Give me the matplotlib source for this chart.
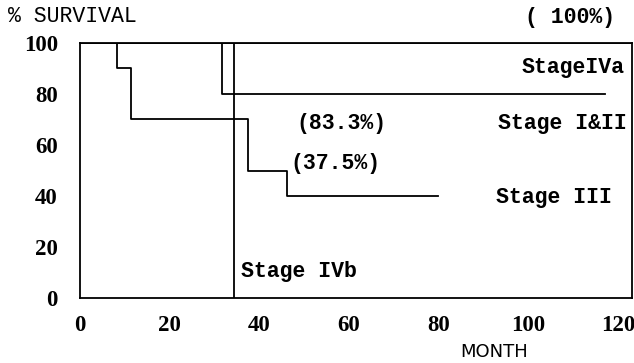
import matplotlib
matplotlib.use("Agg")
import matplotlib.pyplot as plt

# Data (months, % survival)
stage3_t = [0, 8.3, 11.4, 37.5, 46.2, 79.9]
stage3_s = [100, 90, 70, 50, 40, 40]
stage12_t = [0, 31.7, 117.1]
stage12_s = [100, 80, 80]
stage4a_t = [0, 123]
stage4a_s = [100, 100]
stage4b_t = [0, 34.4, 34.4]
stage4b_s = [100, 100, 0]

xticks = [0, 20, 40, 60, 80, 100, 120]
yticks = [0, 20, 40, 60, 80, 100]

W, H = 634, 363
fig = plt.figure(figsize=(W / 100, H / 100), dpi=100)
ax = fig.add_axes([80 / W, 1 - 298 / H, (632 - 80) / W, (298 - 43) / H])
ax.set_xlim(0, 123.1)
ax.set_ylim(0, 100)

lw = 1.3
ax.step(stage3_t, stage3_s, where="post", color="black", lw=lw)
ax.step(stage12_t, stage12_s, where="post", color="black", lw=lw)
ax.step(stage4a_t, stage4a_s, where="post", color="black", lw=lw)
ax.plot(stage4b_t, stage4b_s, color="black", lw=lw)

for s in ax.spines.values():
    s.set_linewidth(1.3)
ax.set_xticks(xticks)
ax.set_yticks(yticks)
tickfont = dict(family="Liberation Serif", weight="bold", size=16.5)
ax.set_xticklabels([str(v) for v in xticks], **tickfont)
ax.set_yticklabels([str(v) for v in yticks], **tickfont)
ax.tick_params(axis="x", length=0, pad=12)
ax.tick_params(axis="y", length=0, pad=16)

mono = dict(family="Liberation Mono", weight="bold", size=15.5, color="black")

def ftext(x, y, s, ha="left", **kw):
    d = dict(mono)
    d.update(kw)
    fig.text(x / W, 1 - y / H, s, ha=ha, va="center", **d)

ftext(8, 17, "% SURVIVAL", size=15.5, weight="normal")
ftext(615, 17, "( 100%)", ha="right")
ftext(625, 68, "StageIVa", ha="right")
ftext(296, 123, "(83.3%)")
ftext(627, 123, "Stage I&II", ha="right")
ftext(290, 164, "(37.5%)")
ftext(612, 197, "Stage III", ha="right")
ftext(241, 272, "Stage IVb")
fig.text(494 / W, 1 - 352 / H, "MONTH", ha="center", va="center",
         family="Liberation Sans Narrow", size=13)

fig.savefig("out.png", dpi=100)
